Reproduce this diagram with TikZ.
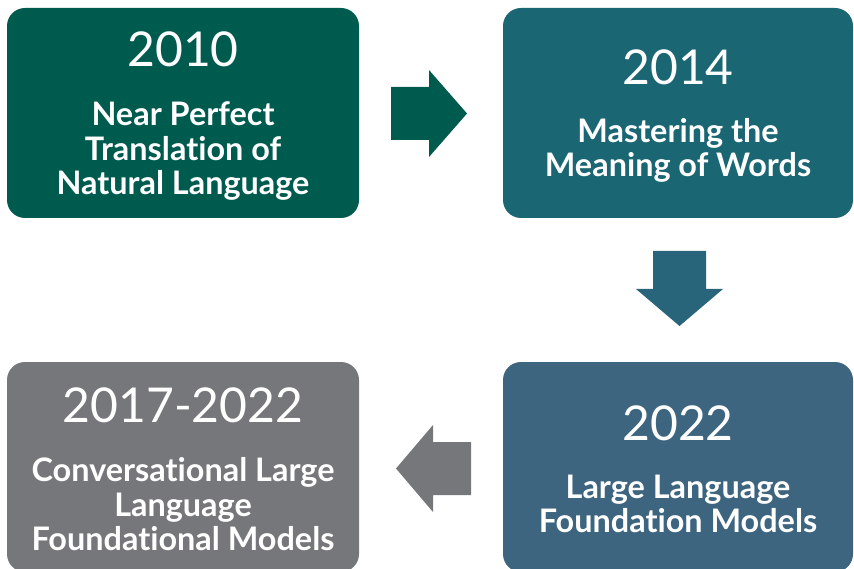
\documentclass[tikz,border=0pt]{standalone}
\usepackage{fontspec}
\setmainfont{Lato}[Ligatures={NoCommon}]
\definecolor{stepgreen}{HTML}{005B4F}
\definecolor{stepteal}{HTML}{1B6673}
\definecolor{arrowteal}{HTML}{28657B}
\definecolor{stepslate}{HTML}{3E657F}
\definecolor{stepgrey}{HTML}{76777A}
\begin{document}
\begin{tikzpicture}[x=1pt,y=-1pt,
  stepbox/.style={rounded corners=18pt,inner sep=0pt},
  yeartext/.style={anchor=base,text=white,inner sep=0pt,font=\fontsize{48}{52}\selectfont},
  desctext/.style={anchor=base,text=white,inner sep=0pt,font=\fontsize{32.4}{34}\selectfont\bfseries}]
\useasboundingbox (0,0) rectangle (854,569);
\clip (0,0) rectangle (854,569);

% four milestone boxes
\fill[stepbox,stepgreen] (7,8) rectangle (359,218);
\fill[stepbox,stepteal] (503,8) rectangle (853,218);
\fill[stepbox,stepslate] (503,362) rectangle (853,572);
\fill[stepbox,stepgrey] (7,362) rectangle (359,572);

% block arrows between the boxes
\fill[stepgreen] (391,87) -- (429,87) -- (429,70) -- (467,113.5) -- (429,157) -- (429,140) -- (391,140) -- cycle;
\fill[arrowteal] (653,251) -- (706,251) -- (706,289) -- (723,289) -- (679.5,326) -- (636,289) -- (653,289) -- cycle;
\fill[stepgrey] (471,442) -- (433,442) -- (433,425) -- (396,468.5) -- (433,512) -- (433,495) -- (471,495) -- cycle;

% 2010
\node[yeartext] (y1) at (183,67) {2010};
\node[desctext] (d1a) at (183,126) {Near Perfect};
\node[desctext] (d1b) at (183,160.5) {Translation of};
\node[desctext] (d1c) at (183,195) {Natural Language};

% 2014
\node[yeartext] (y2) at (678,85) {2014};
\node[desctext] (d2a) at (678,143) {Mastering the};
\node[desctext] (d2b) at (678,177) {Meaning of Words};

% 2022
\node[yeartext] (y3) at (678,440) {2022};
\node[desctext] (d3a) at (678,498) {Large Language};
\node[desctext] (d3b) at (678,532) {Foundation Models};

% 2017-2022
\node[yeartext] (y4) at (183,422) {2017-2022};
\node[desctext] (d4a) at (183,481) {Conversational Large};
\node[desctext] (d4b) at (183,516) {Language};
\node[desctext] (d4c) at (183,550) {Foundational Models};
\end{tikzpicture}
\end{document}
